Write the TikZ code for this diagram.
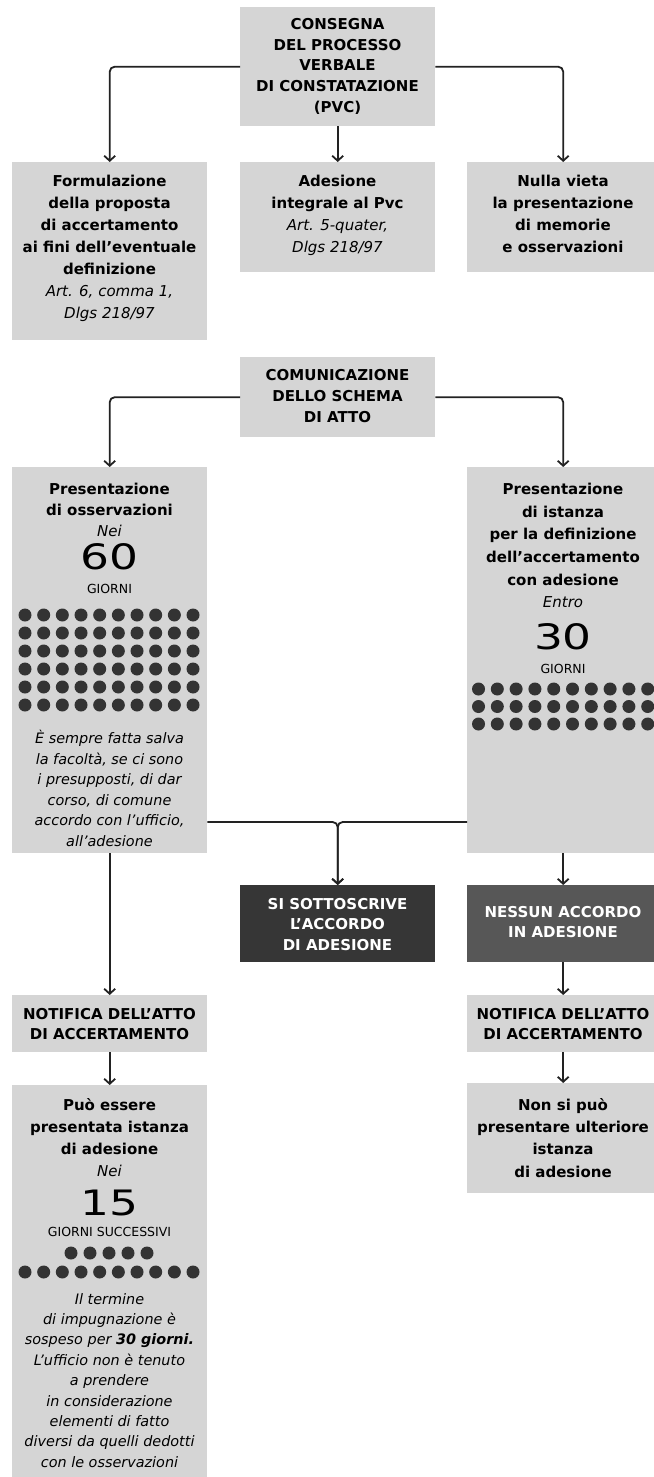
\documentclass[tikz,border=0pt]{standalone}
\usepackage{graphicx}
\usepackage{fontspec}
\setmainfont{DejaVu Sans}
\usetikzlibrary{arrows.meta}
\definecolor{boxgray}{HTML}{D5D5D5}
\definecolor{linec}{HTML}{222222}
\definecolor{dotc}{HTML}{333333}
\definecolor{darkA}{HTML}{363636}
\definecolor{darkB}{HTML}{575757}
\newcommand{\bignum}[1]{\scalebox{1.3}[1]{#1}}
\begin{document}
\begin{tikzpicture}[x=1pt,y=-1pt,
  box/.style={fill=boxgray, draw=none, inner sep=0pt, anchor=north west},
  dbox/.style={box, fill=darkA},
  gbox/.style={box, fill=darkB},
  tb/.style={inner sep=0pt, anchor=north, align=center, font=\bfseries\fontsize{15}{22}\selectfont},
  tw/.style={tb, text=white, font=\bfseries\fontsize{15}{20.5}\selectfont},
  ti/.style={inner sep=0pt, anchor=north, align=center, font=\itshape\fontsize{14.4}{20.5}\selectfont},
  big/.style={inner sep=0pt, anchor=center, font=\fontsize{35}{35}\selectfont},
  small/.style={inner sep=0pt, anchor=center, font=\fontsize{12.5}{12.5}\selectfont},
  conn/.style={draw=linec, line width=1.8pt},
  arr/.style={conn, -{Straight Barb[length=5pt,width=11pt,line width=1.8pt]}},
  dot/.style={circle, fill=dotc, minimum size=13pt, inner sep=0pt},
]
\useasboundingbox (0,0) rectangle (653,1477);

% boxes
\node[box, minimum width=195pt, minimum height=119pt] (pvc) at (240,7) {};
\node[box, minimum width=195pt, minimum height=178pt] (f1) at (12,162) {};
\node[box, minimum width=195pt, minimum height=110pt] (f2) at (240,162) {};
\node[box, minimum width=192pt, minimum height=110pt] (f3) at (467,162) {};
\node[box, minimum width=195pt, minimum height=80pt] (com) at (240,357) {};
\node[box, minimum width=195pt, minimum height=386pt] (oss) at (12,467) {};
\node[box, minimum width=192pt, minimum height=386pt] (ist) at (467,467) {};
\node[dbox, minimum width=195pt, minimum height=77pt] (si) at (240,885) {};
\node[gbox, minimum width=192pt, minimum height=77pt] (nes) at (467,885) {};
\node[box, minimum width=195pt, minimum height=57pt] (not1) at (12,995) {};
\node[box, minimum width=192pt, minimum height=57pt] (not2) at (467,995) {};
\node[box, minimum width=195pt, minimum height=392pt] (puo) at (12,1085) {};
\node[box, minimum width=192pt, minimum height=110pt] (non) at (467,1083) {};

% texts
\node[tb, font=\bfseries\fontsize{15}{20.75}\selectfont] (pvc-t) at (337.5,18) {CONSEGNA\\DEL PROCESSO\\VERBALE\\DI CONSTATAZIONE\\(PVC)};
\node[tb] (f1-t) at (109.5,175) {Formulazione\\della proposta\\di accertamento\\ai fini dell'eventuale\\definizione\\\mdseries\itshape Art. 6, comma 1,\\\mdseries\itshape Dlgs 218/97};
\node[tb] (f2-t) at (337.5,175) {Adesione\\integrale al Pvc\\\mdseries\itshape Art. 5-quater,\\\mdseries\itshape Dlgs 218/97};
\node[tb] (f3-t) at (563,175) {Nulla vieta\\la presentazione\\di memorie\\e osservazioni};
\node[tb, font=\bfseries\fontsize{15}{21}\selectfont] (com-t) at (337.5,369) {COMUNICAZIONE\\DELLO SCHEMA\\DI ATTO};

\node[tb, font=\bfseries\fontsize{15}{21}\selectfont] (oss-t) at (109.5,483) {Presentazione\\di osservazioni\\\mdseries\itshape Nei};
\node[big] (oss-n) at (109.5,557) {\bignum{60}};
\node[small] (oss-g) at (109.5,589) {GIORNI};
\foreach \r in {0,...,5} \foreach \c in {0,...,9}
  \node[dot] (od-\r-\c) at ({25+\c*18.67},{615+\r*18}) {};
\node[ti] (oss-i) at (109.5,730) {È sempre fatta salva\\la facoltà, se ci sono\\i presupposti, di dar\\corso, di comune\\accordo con l’ufficio,\\all’adesione};

\node[tb, font=\bfseries\fontsize{15}{22.6}\selectfont] (ist-t) at (563,483) {Presentazione\\di istanza\\per la definizione\\dell’accertamento\\con adesione\\\mdseries\itshape Entro};
\node[big] (ist-n) at (563,637) {\bignum{30}};
\node[small] (ist-g) at (563,669) {GIORNI};
\foreach \r in {0,1,2} \foreach \c in {0,...,9}
  \node[dot] (id-\r-\c) at ({478.5+\c*18.8},{689+\r*17.5}) {};

\node[tw] (si-t) at (337.5,898) {SI SOTTOSCRIVE\\L’ACCORDO\\DI ADESIONE};
\node[tw] (nes-t) at (563,906) {NESSUN ACCORDO\\IN ADESIONE};
\node[tb, font=\bfseries\fontsize{15}{20.5}\selectfont] (not1-t) at (109.5,1008) {NOTIFICA DELL’ATTO\\DI ACCERTAMENTO};
\node[tb, font=\bfseries\fontsize{15}{20.5}\selectfont] (not2-t) at (563,1008) {NOTIFICA DELL’ATTO\\DI ACCERTAMENTO};

\node[tb] (puo-t) at (109.5,1098) {Può essere\\presentata istanza\\di adesione\\\mdseries\itshape Nei};
\node[big] (puo-n) at (109.5,1203) {\bignum{15}};
\node[small] (puo-g) at (109.5,1232) {GIORNI SUCCESSIVI};
\foreach \c in {0,...,4}
  \node[dot] (pd-a-\c) at ({71+\c*19},1253) {};
\foreach \c in {0,...,9}
  \node[dot] (pd-b-\c) at ({25+\c*18.67},1272) {};
\node[ti, font=\itshape\fontsize{14.4}{20.4}\selectfont] (puo-i) at (109.5,1293) {Il termine\\di impugnazione è\\sospeso per \textbf{30 giorni.}\\L’ufficio non è tenuto\\a prendere\\in considerazione\\elementi di fatto\\diversi da quelli dedotti\\con le osservazioni};

\node[tb, font=\bfseries\fontsize{15}{22.3}\selectfont] (non-t) at (563,1098) {Non si può\\presentare ulteriore\\istanza\\di adesione};

% connectors
\draw[arr, rounded corners=5pt] (pvc.west) -| (f1.north);
\draw[arr, rounded corners=5pt] (pvc.east) -| (f3.north);
\draw[arr] (pvc.south) -- (f2.north);
\draw[arr, rounded corners=5pt] (com.west) -| (oss.north);
\draw[arr, rounded corners=5pt] (com.east) -| (ist.north);
\coordinate (j) at (337.5,822);
\draw[arr, rounded corners=5pt] (oss.east |- j) -| (si.north);
\draw[arr, rounded corners=5pt] (ist.west |- j) -| (si.north);
\draw[arr] (oss.south) -- (not1.north);
\draw[arr] (ist.south) -- (nes.north);
\draw[arr] (nes.south) -- (not2.north);
\draw[arr] (not1.south) -- (puo.north);
\draw[arr] (not2.south) -- (non.north);
\end{tikzpicture}
\end{document}
